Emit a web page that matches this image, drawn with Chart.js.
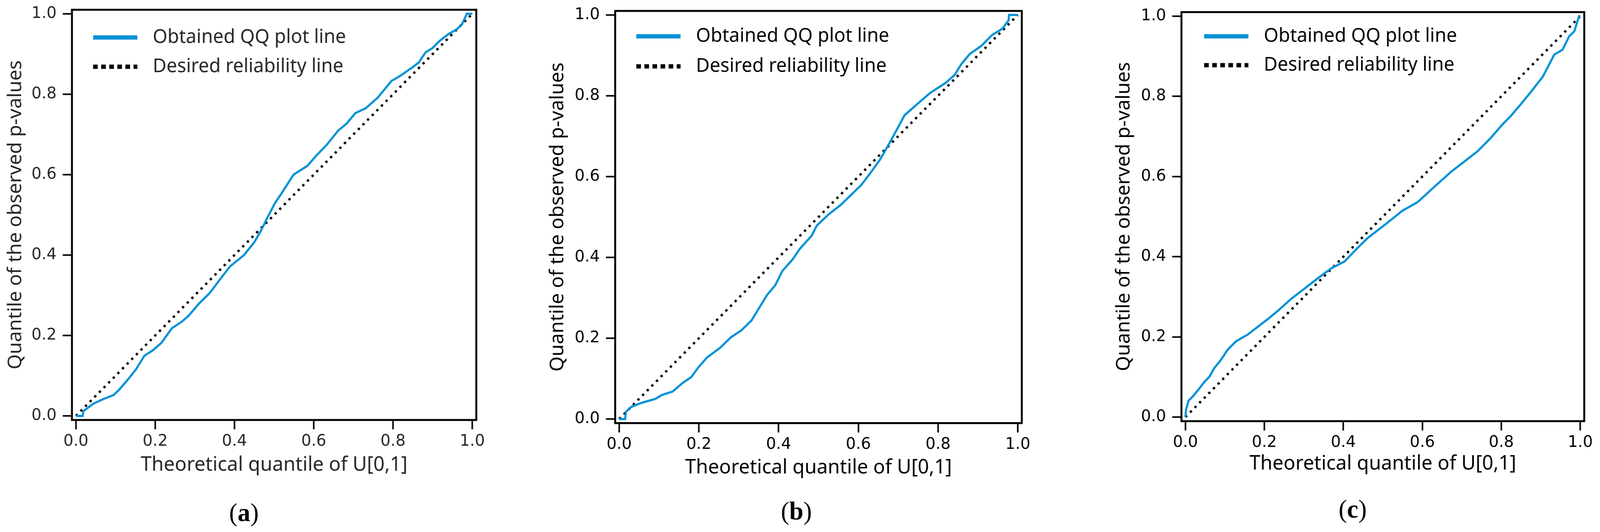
<!DOCTYPE html>
<html>
<head>
<meta charset="utf-8">
<script src="https://cdn.jsdelivr.net/npm/chart.js@4.4.1/dist/chart.umd.min.js"></script>
<style>
  html, body { margin: 0; padding: 0; background: #fff; overflow: hidden; }
  #page { position: absolute; left: 0; top: 0; width: 4159px; height: 1363px; transform-origin: 0 0; background: #fff; }
  canvas { position: absolute; top: 0; }
  .cap { position: absolute; font-family: "Liberation Serif", "DejaVu Serif", serif; font-size: 66px; line-height: 1; transform: translate(-50%, -50%); color: #000; white-space: nowrap; }
</style>
</head>
<body>
<div id="page">
  <canvas id="qqA" width="1300" height="1250" style="left:0px"></canvas>
  <canvas id="qqB" width="1320" height="1250" style="left:1400px"></canvas>
  <canvas id="qqC" width="1359" height="1250" style="left:2800px"></canvas>
  <div class="cap" style="left:634px;top:1313px">(<b>a</b>)</div>
  <div class="cap" style="left:2070px;top:1309px">(<b>b</b>)</div>
  <div class="cap" style="left:3516px;top:1304px">(<b>c</b>)</div>
</div>
<script>
// values
const tickValues = [0, 0.2, 0.4, 0.6, 0.8, 1.0];
const seriesNames = ["Obtained QQ plot line", "Desired reliability line"];
const xTitle = "Theoretical quantile of U[0,1]";
const yTitle = "Quantile of the observed p-values";

const diagonalX = [0, 1];
const diagonalY = [0, 1];

const theoreticalA = [0, 0.017, 0.019, 0.043, 0.069, 0.095, 0.108, 0.134, 0.151, 0.173, 0.195, 0.216, 0.242, 0.268, 0.285, 0.311, 0.337, 0.363, 0.389, 0.424, 0.450, 0.467, 0.484, 0.502, 0.519, 0.549, 0.584, 0.606, 0.631, 0.662, 0.683, 0.705, 0.731, 0.761, 0.796, 0.817, 0.848, 0.865, 0.882, 0.900, 0.917, 0.939, 0.960, 0.973, 0.983, 0.986, 1.0];
const observedA = [0, 0, 0.012, 0.030, 0.042, 0.052, 0.064, 0.094, 0.115, 0.150, 0.164, 0.182, 0.218, 0.235, 0.250, 0.280, 0.305, 0.339, 0.372, 0.400, 0.432, 0.461, 0.495, 0.529, 0.554, 0.600, 0.622, 0.647, 0.672, 0.710, 0.727, 0.753, 0.765, 0.791, 0.833, 0.845, 0.866, 0.879, 0.904, 0.915, 0.932, 0.949, 0.961, 0.972, 0.993, 1.0, 1.0];

const theoreticalB = [0, 0.015, 0.017, 0.030, 0.056, 0.091, 0.108, 0.134, 0.159, 0.181, 0.198, 0.220, 0.254, 0.280, 0.306, 0.332, 0.353, 0.371, 0.392, 0.409, 0.435, 0.453, 0.483, 0.496, 0.526, 0.556, 0.582, 0.608, 0.634, 0.655, 0.677, 0.698, 0.716, 0.746, 0.780, 0.819, 0.841, 0.858, 0.879, 0.909, 0.935, 0.961, 0.977, 0.978, 1.0];
const observedB = [0, 0, 0.018, 0.030, 0.040, 0.050, 0.060, 0.068, 0.089, 0.104, 0.127, 0.152, 0.177, 0.202, 0.219, 0.244, 0.278, 0.307, 0.332, 0.366, 0.395, 0.421, 0.454, 0.479, 0.507, 0.530, 0.555, 0.580, 0.614, 0.643, 0.681, 0.719, 0.752, 0.778, 0.807, 0.832, 0.851, 0.878, 0.903, 0.924, 0.950, 0.966, 0.987, 1.0, 1.0];

const theoreticalC = [0, 0.002, 0.008, 0.019, 0.035, 0.048, 0.061, 0.073, 0.090, 0.107, 0.128, 0.158, 0.183, 0.208, 0.234, 0.268, 0.301, 0.335, 0.369, 0.403, 0.436, 0.462, 0.512, 0.550, 0.588, 0.630, 0.673, 0.706, 0.740, 0.774, 0.803, 0.824, 0.850, 0.875, 0.905, 0.921, 0.934, 0.955, 0.972, 0.985, 0.993, 0.997, 1.0];
const observedC = [0, 0.020, 0.041, 0.052, 0.071, 0.088, 0.101, 0.122, 0.143, 0.168, 0.189, 0.206, 0.225, 0.244, 0.265, 0.295, 0.320, 0.346, 0.371, 0.388, 0.422, 0.447, 0.485, 0.515, 0.536, 0.574, 0.612, 0.637, 0.663, 0.697, 0.730, 0.751, 0.781, 0.811, 0.849, 0.879, 0.904, 0.916, 0.950, 0.962, 0.988, 1.0, 1.0];

const BLUE = "#0092d6";
const SANS = "'Noto Sans', 'Open Sans', sans-serif";

// the window can be narrower than the figure, so fit the whole page into it
const page = document.getElementById("page");
page.style.transform = "scale(" + Math.min(1, window.innerWidth / 4159) + "," + Math.min(1, window.innerHeight / 1363) + ")";

// box around the plot area (matplotlib style frame)
const frameBox = {
  id: "frameBox",
  afterDraw(chart, args, opts) {
    const { ctx, chartArea: a } = chart;
    ctx.save();
    ctx.strokeStyle = opts.color;
    ctx.lineWidth = opts.width;
    ctx.strokeRect(a.left, a.top, a.right - a.left, a.bottom - a.top);
    ctx.restore();
  }
};

// legend drawn inside the plot, line sample + label
const lineLegend = {
  id: "lineLegend",
  afterDraw(chart, args, opts) {
    const { ctx, chartArea: a } = chart;
    ctx.save();
    ctx.font = opts.size + "px " + SANS;
    ctx.textBaseline = "middle";
    chart.data.datasets.forEach((ds, i) => {
      const y = a.top + opts.rows[i];
      ctx.beginPath();
      ctx.strokeStyle = ds.borderColor;
      ctx.lineWidth = opts.lineWidth;
      ctx.lineCap = "butt";
      ctx.setLineDash(opts.dashes[i]);
      ctx.moveTo(a.left + opts.lineStart, y);
      ctx.lineTo(a.left + opts.lineStart + opts.lineLength, y);
      ctx.stroke();
      ctx.setLineDash([]);
      ctx.fillStyle = opts.color;
      ctx.fillText(ds.label, a.left + opts.textStart, y);
    });
    ctx.restore();
  }
};

function axis(box, horizontal) {
  return {
    type: "linear",
    min: -0.01,
    max: 1.01,
    afterBuildTicks: s => { s.ticks = tickValues.map(v => ({ value: v })); },
    afterFit: s => {
      if (horizontal) s.height = box.xHeight;
      else s.width = box.yWidth;
      // plot area is placed by layout.padding only
      s.paddingTop = s.paddingBottom = s.paddingLeft = s.paddingRight = 0;
    },
    ticks: {
      callback: v => v.toFixed(1),
      font: { family: "'DejaVu Sans'", size: 41, lineHeight: 1 },
      color: box.text,
      padding: horizontal ? 11 : 16,
      maxRotation: 0,
      autoSkip: false
    },
    grid: {
      display: true,
      drawOnChartArea: false,
      drawTicks: true,
      tickLength: 24,
      tickWidth: 4,
      tickColor: "#000"
    },
    border: { display: false },
    title: {
      display: true,
      text: horizontal ? xTitle : yTitle,
      color: box.text,
      font: { family: SANS, size: horizontal ? 51 : 50, lineHeight: 1.2 },
      padding: horizontal ? { top: 0, bottom: box.xTitlePad } : { top: box.yTitlePad, bottom: 0 }
    }
  };
}

function makePanel(id, xs, ys, box) {
  const qq = xs.map((x, i) => ({ x: x, y: ys[i] }));
  const diag = diagonalX.map((x, i) => ({ x: x, y: diagonalY[i] }));
  return new Chart(document.getElementById(id), {
    type: "scatter",
    data: {
      datasets: [
        { label: seriesNames[0], data: qq, showLine: true, borderColor: BLUE, borderWidth: 5.5, pointRadius: 0, tension: 0 },
        { label: seriesNames[1], data: diag, showLine: true, borderColor: "#000", borderWidth: 6, borderDash: [6, 11], pointRadius: 0 }
      ]
    },
    options: {
      responsive: false,
      animation: false,
      devicePixelRatio: 1,
      layout: { padding: { left: 0, top: box.top, right: box.right, bottom: 0 } },
      scales: { x: axis(box, true), y: axis(box, false) },
      plugins: {
        legend: { display: false },
        tooltip: { enabled: false },
        frameBox: { color: "#000", width: 5 },
        lineLegend: {
          size: 49,
          color: box.text,
          rows: box.rows,
          lineStart: box.lineStart,
          lineLength: 115,
          textStart: box.textStart,
          lineWidth: 11,
          dashes: [[], [12, 9]]
        }
      }
    },
    plugins: [frameBox, lineLegend]
  });
}

makePanel("qqA", theoreticalA, observedA, {
  yWidth: 187, top: 25, right: 62, xHeight: 174, yTitlePad: 11, xTitlePad: 28,
  rows: [71, 146], lineStart: 55, textStart: 210, text: "#262626"
});
makePanel("qqB", theoreticalB, observedB, {
  yWidth: 199, top: 28, right: 64, xHeight: 166, yTitlePad: 20, xTitlePad: 21,
  rows: [65, 142], lineStart: 55, textStart: 210, text: "#000"
});
makePanel("qqC", theoreticalC, observedC, {
  yWidth: 271, top: 31, right: 41, xHeight: 171, yTitlePad: 92, xTitlePad: 31,
  rows: [62, 136], lineStart: 59, textStart: 214, text: "#000"
});
</script>
</body>
</html>
